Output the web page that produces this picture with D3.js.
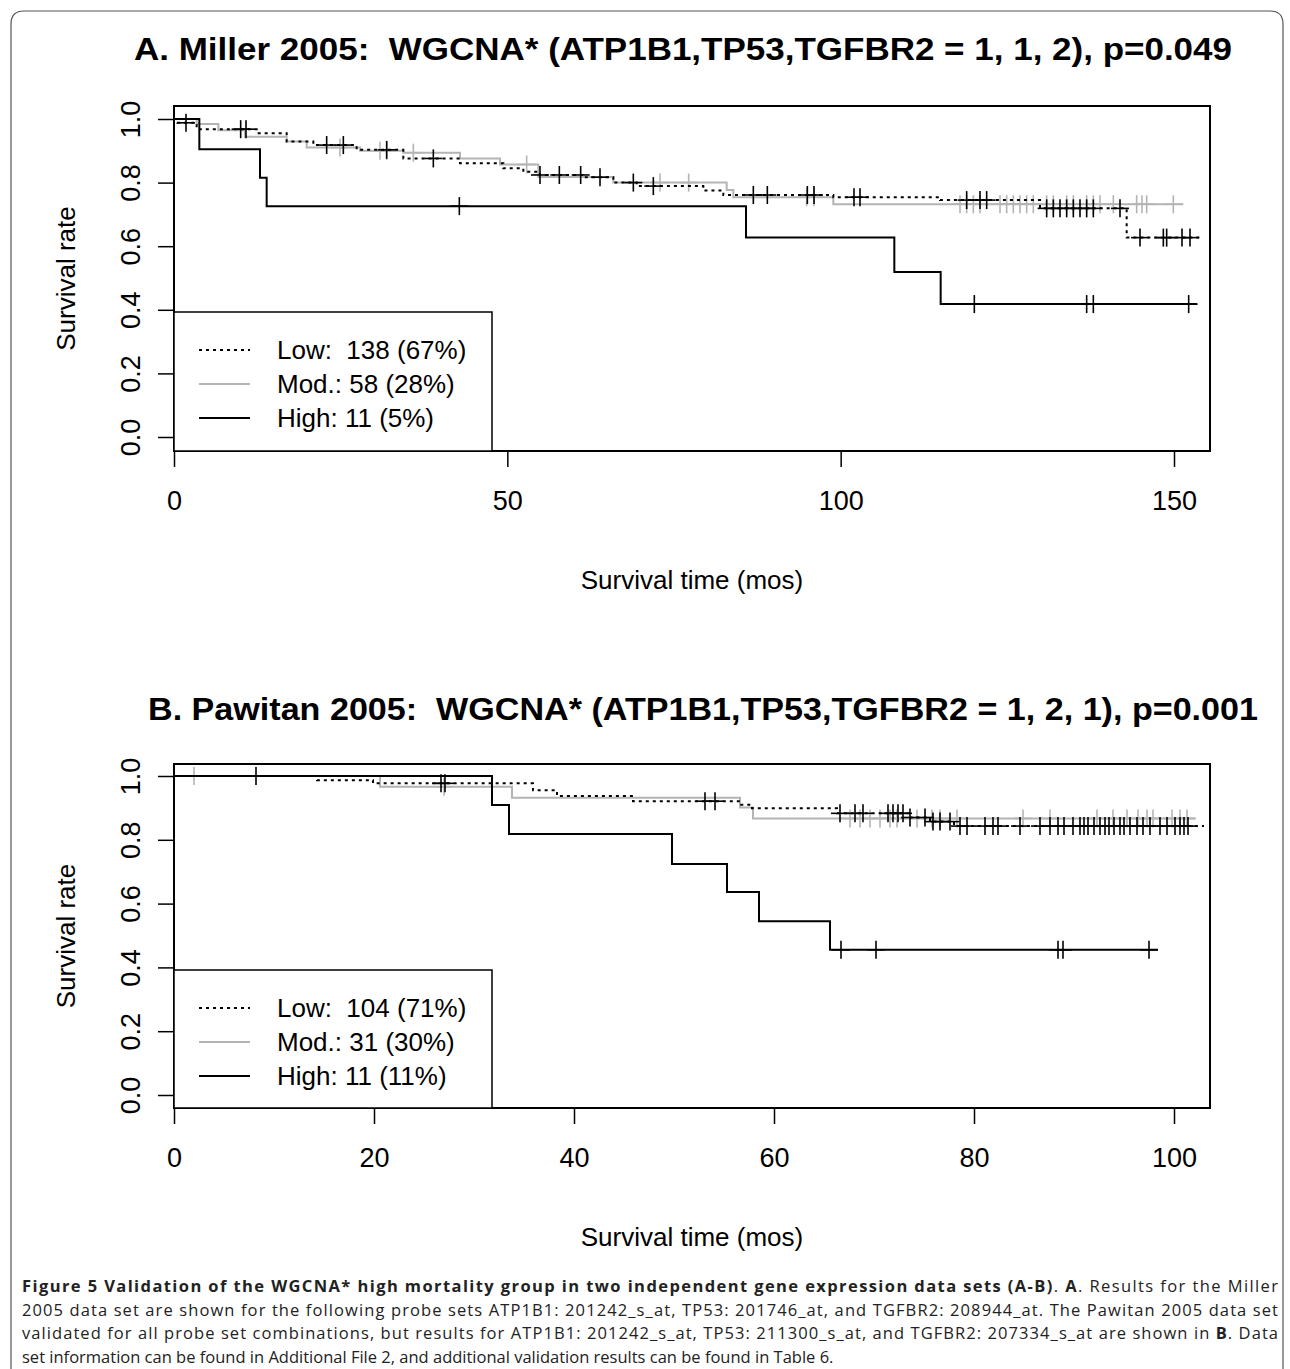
<!DOCTYPE html>
<html>
<head>
<meta charset="utf-8">
<script src="https://cdn.jsdelivr.net/npm/d3@7"></script>
<style>
body { margin: 0; background: #fff; }
text { font-family: "Liberation Sans", Arial, sans-serif; white-space: pre; }
.cap { font-family: "Open Sans", sans-serif; font-size: 16.5px; fill: #222; }
</style>
</head>
<body>
<script>
// ---- Panel A (Miller 2005) ----
var aLowT   = [0, 0.5, 3.4, 12.4, 16.9, 20.9, 27.4, 34.4, 42.9, 49.4, 52.4, 54.9, 61.4, 65.9, 69.4, 79.4, 82.4, 98.9, 114.9, 129.9, 142.9, 153.9];
var aLowS   = [1, 0.988, 0.968, 0.955, 0.929, 0.918, 0.903, 0.876, 0.861, 0.845, 0.834, 0.824, 0.817, 0.80, 0.789, 0.775, 0.761, 0.754, 0.745, 0.719, 0.627, 0.627];
var aModT   = [0, 3.4, 6.65, 10.65, 16.9, 19.9, 27.9, 34.4, 42.9, 48.9, 54.65, 65.9, 82.9, 83.9, 98.9, 151.4];
var aModS   = [1, 0.984, 0.965, 0.944, 0.929, 0.910, 0.900, 0.894, 0.876, 0.857, 0.818, 0.80, 0.777, 0.754, 0.732, 0.732];
var aHighT  = [0, 3.8, 12.9, 13.9, 85.8, 108.05, 115.0, 153.4];
var aHighS  = [1, 0.905, 0.815, 0.726, 0.627, 0.519, 0.418, 0.418];
var aLowCens  = [1.8, 10.0, 10.8, 22.9, 25.4, 31.9, 38.9, 54.9, 57.8, 61.0, 63.9, 68.9, 71.9, 86.9, 89.0, 95.0, 96.0, 102.0, 102.9,
                 118.9, 120.9, 121.9, 130.9, 131.9, 132.9, 133.9, 134.9, 135.9, 136.9, 137.9, 141.9, 144.9, 148.4, 148.9, 151.2, 152.4];
var aModCens  = [24.9, 30.9, 31.9, 35.9, 52.9, 72.9, 77.2, 94.9, 96.0, 117.9, 118.9, 119.9, 120.9, 123.9, 124.9, 125.9, 126.9, 127.9, 128.9,
                 130.9, 131.9, 133.9, 134.9, 136.9, 137.9, 138.9, 140.9, 144.4, 145.2, 145.9, 149.9];
var aHighCens = [42.8, 120.05, 136.9, 137.9, 152.2];
var aXTicks = [0, 50, 100, 150];

// ---- Panel B (Pawitan 2005) ----
var bLowT   = [0, 14.3, 19.9, 35.9, 38.3, 45.9, 56.6, 57.8, 66.3, 73.5, 75.6, 78.0, 103];
var bLowS   = [1, 0.987, 0.977, 0.955, 0.937, 0.921, 0.91, 0.899, 0.883, 0.87, 0.857, 0.843, 0.843];
var bModT   = [0, 20.6, 33.8, 56.6, 57.9, 102.1];
var bModS   = [1, 0.966, 0.932, 0.901, 0.867, 0.867];
var bHighT  = [0, 31.8, 33.5, 49.8, 55.3, 58.5, 65.6, 98.4];
var bHighS  = [1, 0.909, 0.818, 0.724, 0.636, 0.545, 0.455, 0.455];
var bLowCens  = [8.2, 26.7, 27.1, 53.1, 54.1, 66.6, 68.1, 68.9, 71.4, 71.9, 72.4, 72.9, 73.6, 75.1, 75.9, 76.6, 77.6, 78.6, 79.3,
                 81.1, 81.9, 82.4, 84.6, 86.6, 87.6, 88.4, 89.0, 89.9, 90.6, 91.0, 91.4, 92.0, 92.6, 93.1, 93.5, 94.0, 94.6,
                 95.0, 95.6, 96.3, 96.9, 97.6, 98.6, 99.3, 100.1, 100.6, 101.0, 101.4];
var bModCens  = [2.0, 27.0, 67.6, 68.6, 69.6, 70.6, 71.6, 72.3, 74.3, 75.8, 76.6, 78.3, 84.9, 87.6, 92.3, 93.9, 95.3, 96.4,
                 97.3, 97.9, 99.8, 100.6, 101.3];
var bHighCens = [66.7, 70.2, 88.4, 88.9, 97.5];
var bXTicks = [0, 20, 40, 60, 80, 100];

var yTicks = [0, 0.2, 0.4, 0.6, 0.8, 1.0];
var grey = "#b4b4b4";

var W = 1290, H = 1369;
var svg = d3.select("body").append("svg").attr("width", W).attr("height", H);

// outer frame (rounded, open at the bottom)
svg.append("path")
   .attr("d", "M11,1369 L11,24 Q11,11 24,11 L1270,11 Q1283,11 1283,24 L1283,1369")
   .attr("fill", "none").attr("stroke", "#555").attr("stroke-width", 1.2);

function panel(o) {
    var x = d3.scaleLinear().domain([0, o.xmax]).range([174, 1210]);
    var y = d3.scaleLinear().domain([0, 1]).range([o.y0, o.y1]);
    var g = svg.append("g");

    g.append("text").attr("x", o.titleX).attr("y", o.titleY)
      .attr("font-size", "32px").attr("font-weight", "bold")
      .attr("textLength", o.titleW).attr("lengthAdjust", "spacingAndGlyphs")
      .text(o.title);

    g.append("rect").attr("x", 174).attr("y", o.boxTop).attr("width", 1036).attr("height", o.boxBot - o.boxTop)
      .attr("fill", "none").attr("stroke", "#000").attr("stroke-width", 2);

    var xAxis = g.append("g").attr("transform", "translate(0," + o.boxBot + ")")
      .call(d3.axisBottom(x).tickValues(o.xticks).tickSize(16).tickPadding(24).tickFormat(d3.format("d")));
    xAxis.select(".domain").attr("d", "M" + x(o.xticks[0]) + ",0H" + x(o.xticks[o.xticks.length - 1]));
    var yAxis = g.append("g").attr("transform", "translate(174,0)")
      .call(d3.axisLeft(y).tickValues(yTicks).tickSize(16).tickFormat(d3.format(".1f")));
    yAxis.select(".domain").attr("d", "M0," + y(0) + "V" + y(1));
    g.selectAll(".tick line").attr("stroke-width", 1.5);
    g.selectAll(".domain").attr("stroke-width", 1.5);
    g.selectAll(".tick text").attr("font-size", "27px").attr("fill", "#000")
      .style("font-family", "Liberation Sans, Arial, sans-serif");
    yAxis.selectAll(".tick text").attr("transform", "rotate(-90)")
      .attr("x", 0).attr("y", -34).attr("dy", "0").attr("text-anchor", "middle");

    g.append("text").attr("transform", "translate(75," + ((o.boxTop + o.boxBot) / 2) + ") rotate(-90)")
      .attr("text-anchor", "middle").attr("font-size", "26px").text("Survival rate");
    g.append("text").attr("x", 692).attr("y", o.boxBot + 138)
      .attr("text-anchor", "middle").attr("font-size", "26px").text("Survival time (mos)");

    var line = d3.line().curve(d3.curveStepAfter).x(function(d) { return x(d[0]); }).y(function(d) { return y(d[1]); });
    function curve(ts, ss, cens, color, dash) {
        var pts = ts.map(function(t, i) { return [t, ss[i]]; });
        g.append("path").datum(pts).attr("d", line).attr("fill", "none")
          .attr("stroke", color).attr("stroke-width", 2).attr("stroke-dasharray", dash);
        // survival value at censor time
        var sAt = function(t) { var s = ss[0]; ts.forEach(function(tt, i) { if (tt <= t) s = ss[i]; }); return s; };
        var c = g.append("g");
        cens.forEach(function(t) {
            var cx = x(t), cy = y(sAt(t));
            c.append("line").attr("x1", cx).attr("x2", cx).attr("y1", cy - 9).attr("y2", cy + 9);
            c.append("line").attr("x1", cx - 9).attr("x2", cx + 9).attr("y1", cy).attr("y2", cy);
        });
        c.selectAll("line").attr("stroke", color).attr("stroke-width", 1.6);
    }
    curve(o.mod[0], o.mod[1], o.mod[2], grey, null);
    curve(o.low[0], o.low[1], o.low[2], "#000", "3,4");
    curve(o.high[0], o.high[1], o.high[2], "#000", null);

    // legend
    var lg = g.append("g");
    lg.append("rect").attr("x", 174).attr("y", o.legTop).attr("width", 318).attr("height", o.boxBot - o.legTop)
      .attr("fill", "#fff").attr("stroke", "#000").attr("stroke-width", 1.5);
    o.legend.forEach(function(txt, i) {
        var ly = o.legTop + 38 + i * 34;
        lg.append("line").attr("x1", 199).attr("x2", 250).attr("y1", ly).attr("y2", ly)
          .attr("stroke", i == 1 ? grey : "#000").attr("stroke-width", 2)
          .attr("stroke-dasharray", i == 0 ? "3,4" : null);
        lg.append("text").attr("x", 277).attr("y", ly + 9).attr("font-size", "26px").text(txt);
    });
}

panel({
    title: "A. Miller 2005:  WGCNA* (ATP1B1,TP53,TGFBR2 = 1, 1, 2), p=0.049",
    titleX: 134, titleY: 60, titleW: 1098, xmax: 155.4, xticks: aXTicks,
    y0: 437, y1: 119, boxTop: 106, boxBot: 451, legTop: 312,
    low: [aLowT, aLowS, aLowCens], mod: [aModT, aModS, aModCens], high: [aHighT, aHighS, aHighCens],
    legend: ["Low:  138 (67%)", "Mod.: 58 (28%)", "High: 11 (5%)"]
});
panel({
    title: "B. Pawitan 2005:  WGCNA* (ATP1B1,TP53,TGFBR2 = 1, 2, 1), p=0.001",
    titleX: 148, titleY: 720, titleW: 1110, xmax: 103.6, xticks: bXTicks,
    y0: 1095, y1: 776, boxTop: 764, boxBot: 1108, legTop: 970,
    low: [bLowT, bLowS, bLowCens], mod: [bModT, bModS, bModCens], high: [bHighT, bHighS, bHighCens],
    legend: ["Low:  104 (71%)", "Mod.: 31 (30%)", "High: 11 (11%)"]
});

// caption
var capLines = [
    [["Figure 5 Validation of the WGCNA* high mortality group in two independent gene expression data sets (A-B)", 1], [". ", 0], ["A", 1], [". Results for the Miller", 0]],
    [["2005 data set are shown for the following probe sets ATP1B1: 201242_s_at, TP53: 201746_at, and TGFBR2: 208944_at. The Pawitan 2005 data set", 0]],
    [["validated for all probe set combinations, but results for ATP1B1: 201242_s_at, TP53: 211300_s_at, and TGFBR2: 207334_s_at are shown in ", 0], ["B", 1], [". Data", 0]],
    [["set information can be found in Additional File 2, and additional validation results can be found in Table 6.", 0]]
];
capLines.forEach(function(parts, i) {
    var t = svg.append("text").attr("class", "cap").attr("x", 22).attr("y", 1292 + i * 23.5);
    if (i < 3) t.attr("textLength", 1256).attr("lengthAdjust", "spacing");
    parts.forEach(function(p) {
        t.append("tspan").attr("font-weight", p[1] ? "bold" : "normal").text(p[0]);
    });
});
</script>
</body>
</html>
